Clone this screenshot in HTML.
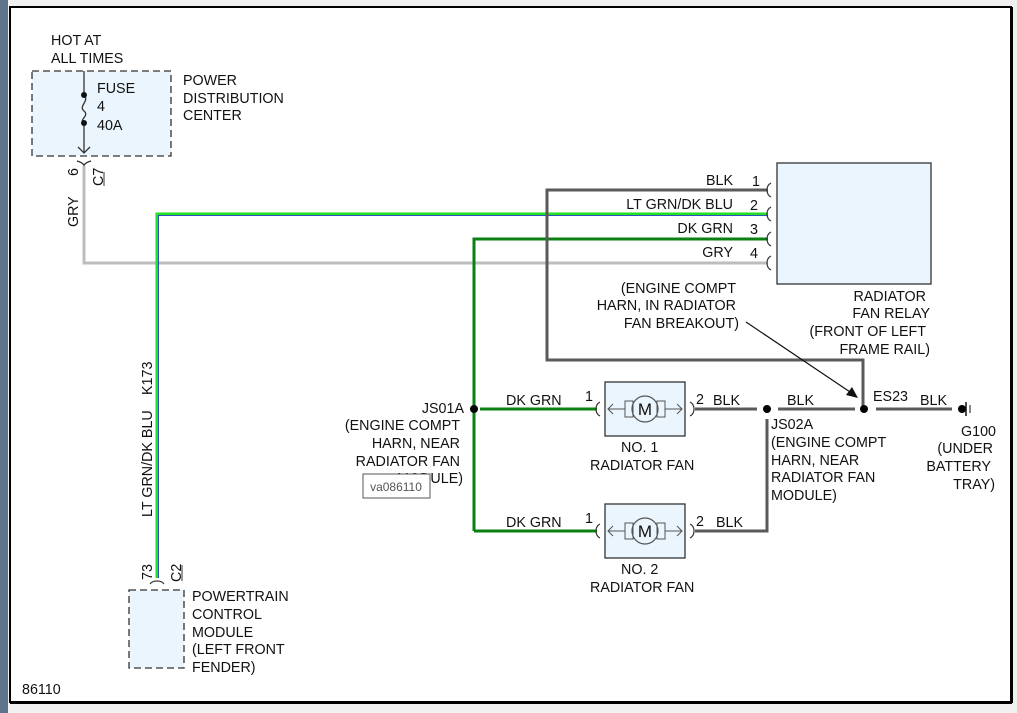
<!DOCTYPE html>
<html><head><meta charset="utf-8"><style>
html,body{margin:0;padding:0;background:#f0f0f0;}
svg{display:block}
text{font-family:"Liberation Sans",Arial,sans-serif;font-size:14.3px;fill:#111}
</style></head><body>
<svg width="1017" height="713" viewBox="0 0 1017 713" xmlns="http://www.w3.org/2000/svg">
<rect x="0" y="0" width="1017" height="713" fill="#f0f0f0"/>
<rect x="0" y="0" width="8" height="713" fill="#5f7389"/>
<rect x="10" y="7" width="1001" height="695" fill="#fff" stroke="#000" stroke-width="2"/>
<line x1="1012" y1="7" x2="1012" y2="703" stroke="#000" stroke-width="2"/>
<line x1="10" y1="703" x2="1012" y2="703" stroke="#000" stroke-width="2"/>

<!-- PDC -->
<text x="51" y="45">HOT AT</text><text x="51" y="63">ALL TIMES</text>
<rect x="32" y="71" width="139" height="85" fill="#eaf5fd" stroke="#333" stroke-width="1.3" stroke-dasharray="7,4"/>
<line x1="84" y1="71" x2="84" y2="95" stroke="#333" stroke-width="1.3"/>
<path d="M84 95 C90 101,78 106,84 111 C90 116,78 120,84 123" fill="none" stroke="#333" stroke-width="1.3"/>
<line x1="84" y1="123" x2="84" y2="153" stroke="#333" stroke-width="1.3"/>
<path d="M78 147 L84 153 L90 147" fill="none" stroke="#333" stroke-width="1.3"/>
<circle cx="84" cy="95" r="3" fill="#111"/><circle cx="84" cy="123" r="3" fill="#111"/>
<text x="97" y="93">FUSE</text><text x="97" y="111">4</text><text x="97" y="130">40A</text>
<text x="183" y="85">POWER</text><text x="183" y="103">DISTRIBUTION</text><text x="183" y="120">CENTER</text>
<path d="M77 161 Q84 163 84 166 Q84 163 91 161" fill="none" stroke="#333" stroke-width="1.2"/>
<text transform="translate(78,176) rotate(-90)">6</text>
<text transform="translate(103,186) rotate(-90)">C7</text>
<line x1="104" y1="172" x2="104" y2="186" stroke="#333"/>
<text transform="translate(78,227) rotate(-90)">GRY</text>

<!-- wires -->
<polyline points="84,166 84,263 768,263" fill="none" stroke="#bdbdbd" stroke-width="3"/>
<polyline points="157,578 157,214 768,214" fill="none" stroke="#22e022" stroke-width="3"/>
<polyline points="158.5,578 158.5,215.5 768,215.5" fill="none" stroke="#3050c0" stroke-width="1"/>
<polyline points="474,531 474,239 768,239" fill="none" stroke="#0a7f12" stroke-width="3"/>
<polyline points="768,190 547,190 547,360 863,360 863,409" fill="none" stroke="#5a5a5a" stroke-width="3"/>
<line x1="480" y1="409" x2="597" y2="409" stroke="#0a7f12" stroke-width="3"/>
<line x1="474" y1="531" x2="597" y2="531" stroke="#0a7f12" stroke-width="3"/>
<line x1="695" y1="409" x2="757" y2="409" stroke="#5a5a5a" stroke-width="3"/>
<line x1="778" y1="409" x2="855" y2="409" stroke="#5a5a5a" stroke-width="3"/>
<line x1="876" y1="409" x2="952" y2="409" stroke="#5a5a5a" stroke-width="3"/>
<polyline points="767,419 767,531 695,531" fill="none" stroke="#5a5a5a" stroke-width="3"/>
<circle cx="474" cy="409" r="4" fill="#000"/>
<circle cx="767" cy="409" r="4" fill="#000"/>
<circle cx="864" cy="409" r="4" fill="#000"/>
<circle cx="962" cy="409" r="4" fill="#000"/>
<line x1="966" y1="402" x2="966" y2="416" stroke="#111" stroke-width="1.5"/>
<line x1="970" y1="405" x2="970" y2="413" stroke="#111" stroke-width="1"/>

<!-- relay -->
<rect x="777" y="163" width="154" height="121" fill="#eaf5fd" stroke="#333" stroke-width="1.3"/>
<g fill="none" stroke="#333" stroke-width="1.2">
<path d="M771 183 Q767 185 767 190 Q767 195 771 197"/>
<path d="M771 207 Q767 209 767 214 Q767 219 771 221"/>
<path d="M771 232 Q767 234 767 239 Q767 244 771 246"/>
<path d="M771 256 Q767 258 767 263 Q767 268 771 270"/>
</g>
<text x="752" y="186">1</text><text x="750" y="210">2</text><text x="750" y="234">3</text><text x="750" y="258">4</text>
<text x="733" y="185" text-anchor="end">BLK</text>
<text x="733" y="209" text-anchor="end">LT GRN/DK BLU</text>
<text x="733" y="233" text-anchor="end">DK GRN</text>
<text x="733" y="257" text-anchor="end">GRY</text>
<text x="926" y="301" text-anchor="end">RADIATOR</text>
<text x="930" y="318" text-anchor="end">FAN RELAY</text>
<text x="926" y="336" text-anchor="end">(FRONT OF LEFT</text>
<text x="930" y="354" text-anchor="end">FRAME RAIL)</text>
<text x="736" y="293" text-anchor="end">(ENGINE COMPT</text>
<text x="736" y="310" text-anchor="end">HARN, IN RADIATOR</text>
<text x="739" y="328" text-anchor="end">FAN BREAKOUT)</text>
<line x1="746" y1="322" x2="856" y2="396" stroke="#111" stroke-width="1.2"/>
<path d="M858 398 L846 395 L852 387 Z" fill="#111"/>
<text x="873" y="401">ES23</text>
<text x="920" y="405">BLK</text>
<text x="996" y="436" text-anchor="end">G100</text>
<text x="993" y="453" text-anchor="end">(UNDER</text>
<text x="991" y="471" text-anchor="end">BATTERY</text>
<text x="995" y="489" text-anchor="end">TRAY)</text>

<!-- fans -->
<g id="fan">
<rect x="605" y="382" width="80" height="54" fill="#eaf5fd" stroke="#333" stroke-width="1.3"/>
<circle cx="645" cy="409" r="13" fill="#eaf5fd" stroke="#555" stroke-width="1.2"/>
<rect x="625" y="401" width="8" height="16" fill="none" stroke="#555"/>
<rect x="657" y="401" width="8" height="16" fill="none" stroke="#555"/>
<line x1="608" y1="409" x2="625" y2="409" stroke="#555"/>
<line x1="665" y1="409" x2="682" y2="409" stroke="#555"/>
<path d="M613 404 L608 409 L613 414 M677 404 L682 409 L677 414" fill="none" stroke="#555"/>
<text x="645" y="415" text-anchor="middle" style="font-size:17px">M</text>
<path d="M600 402 Q596 404 596 409 Q596 414 600 416" fill="none" stroke="#333" stroke-width="1.2"/>
<path d="M690 402 Q694 404 694 409 Q694 414 690 416" fill="none" stroke="#333" stroke-width="1.2"/>
</g>
<use href="#fan" transform="translate(0,122)"/>
<text x="585" y="401">1</text><text x="696" y="404">2</text><text x="713" y="405">BLK</text>
<text x="585" y="523">1</text><text x="696" y="526">2</text><text x="716" y="527">BLK</text>
<text x="787" y="405">BLK</text>
<text x="506" y="405">DK GRN</text><text x="506" y="527">DK GRN</text>
<text x="621" y="452">NO. 1</text><text x="590" y="470">RADIATOR FAN</text>
<text x="621" y="574">NO. 2</text><text x="590" y="592">RADIATOR FAN</text>
<text x="771" y="429">JS02A</text>
<text x="771" y="447">(ENGINE COMPT</text>
<text x="771" y="465">HARN, NEAR</text>
<text x="771" y="482">RADIATOR FAN</text>
<text x="771" y="500">MODULE)</text>
<text x="464" y="413" text-anchor="end">JS01A</text>
<text x="460" y="430" text-anchor="end">(ENGINE COMPT</text>
<text x="460" y="448" text-anchor="end">HARN, NEAR</text>
<text x="460" y="466" text-anchor="end">RADIATOR FAN</text>
<text x="463" y="483" text-anchor="end">MODULE)</text>
<rect x="363" y="474" width="67" height="24" fill="#fff" stroke="#555"/>
<text x="396" y="491" text-anchor="middle" style="font-size:12px;fill:#555">va086110</text>

<!-- PCM -->
<text transform="translate(152,395) rotate(-90)">K173</text>
<text transform="translate(152,517) rotate(-90)">LT GRN/DK BLU</text>
<text transform="translate(152,580) rotate(-90)">73</text>
<text transform="translate(181,582) rotate(-90)">C2</text>
<line x1="182" y1="565" x2="182" y2="581" stroke="#333"/>
<path d="M150 584 Q152 581 157 581 Q162 581 164 584" fill="none" stroke="#333" stroke-width="1.2"/>
<rect x="129" y="590" width="55" height="78" fill="#eaf5fd" stroke="#333" stroke-width="1.3" stroke-dasharray="7,4"/>
<text x="192" y="601">POWERTRAIN</text><text x="192" y="619">CONTROL</text><text x="192" y="637">MODULE</text>
<text x="192" y="654">(LEFT FRONT</text><text x="192" y="672">FENDER)</text>
<text x="22" y="694">86110</text>
</svg>
</body></html>
